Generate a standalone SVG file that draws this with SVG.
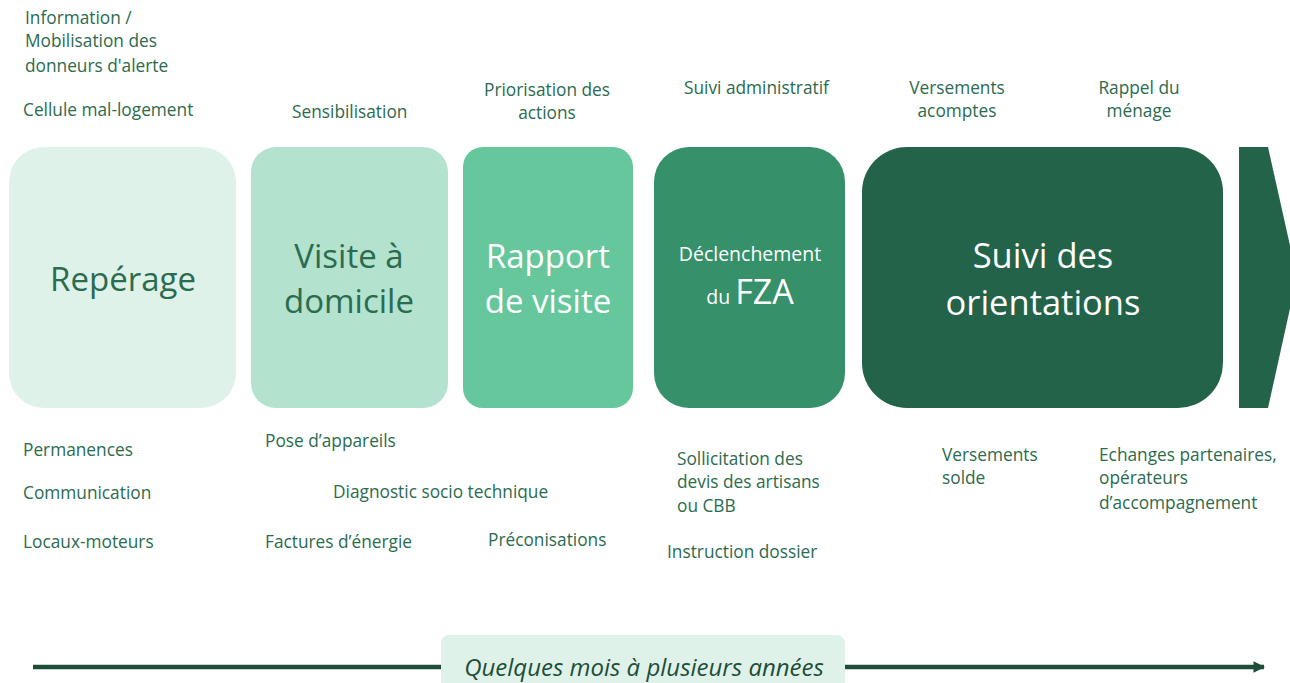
<svg xmlns="http://www.w3.org/2000/svg" width="1290" height="683" viewBox="0 0 1290 683">
<defs>
<style>
.t{font-family:"Open Sans","Noto Sans",sans-serif;font-size:17.3px;fill:#2b6b4e}
.c{text-anchor:middle}
.big{font-family:"Open Sans","Noto Sans",sans-serif;font-size:33px;text-anchor:middle}
.dk{fill:#2b6b4e}
.wh{fill:#ffffff}
</style>
<marker id="ah" viewBox="0 0 10 10" refX="9" refY="5" markerWidth="2.6" markerHeight="2.6" orient="auto"><path d="M0,0 L10,5 L0,10 z" fill="#1e4d38"/></marker>
</defs>
<rect width="1290" height="683" fill="#ffffff"/>

<g id="connectors">
<line x1="33" y1="667" x2="1264" y2="667" stroke="#1e4d38" stroke-width="4.5" marker-end="url(#ah)"/>
</g>

<g id="duree">
<rect x="441" y="635" width="404" height="60" rx="8" fill="#dff2ea"/>
<text x="644" y="676" font-family="Open Sans, Noto Sans, sans-serif" font-size="24" font-style="italic" fill="#1e4d38" text-anchor="middle">Quelques mois à plusieurs années</text>
</g>

<g id="reperage">
<rect x="9" y="147" width="227" height="261" rx="35" fill="#dff2ea"/>
<text class="big dk" x="123" y="291">Repérage</text>
</g>
<g id="visite">
<rect x="251" y="147" width="197" height="261" rx="25" fill="#b3e2cf"/>
<text class="big dk" x="349" y="268">Visite à</text>
<text class="big dk" x="349" y="313">domicile</text>
</g>
<g id="rapport">
<rect x="463" y="147" width="170" height="261" rx="20" fill="#66c79c"/>
<text class="big wh" x="548" y="268">Rapport</text>
<text class="big wh" x="548" y="313">de visite</text>
</g>
<g id="fza">
<rect x="654" y="147" width="191" height="261" rx="35" fill="#36906a"/>
<text class="wh" x="750" y="261" font-family="Open Sans, Noto Sans, sans-serif" font-size="19.5" text-anchor="middle">Déclenchement</text>
<text class="wh" x="750" y="304" font-family="Open Sans, Noto Sans, sans-serif" text-anchor="middle"><tspan font-size="19.5">du </tspan><tspan font-size="34">FZA</tspan></text>
</g>
<g id="suivi">
<rect x="862" y="147" width="361" height="261" rx="45" fill="#236349"/>
<text class="big wh" x="1043" y="268" font-size="34.5" style="font-size:34.5px">Suivi des</text>
<text class="big wh" x="1043" y="315" style="font-size:34.5px">orientations</text>
</g>
<g id="fleche">
<polygon points="1239,147 1268,147 1297,277 1268,408 1239,408" fill="#236349"/>
</g>

<g id="labels-haut">
<text class="t" x="25" y="24">Information /</text>
<text class="t" x="25" y="47">Mobilisation des</text>
<text class="t" x="25" y="72">donneurs d'alerte</text>
<text class="t" x="23" y="116">Cellule mal-logement</text>
<text class="t" x="292" y="118">Sensibilisation</text>
<text class="t c" x="547" y="96">Priorisation des</text>
<text class="t c" x="547" y="119">actions</text>
<text class="t" x="684" y="94">Suivi administratif</text>
<text class="t c" x="957" y="94">Versements</text>
<text class="t c" x="957" y="117">acomptes</text>
<text class="t c" x="1139" y="94">Rappel du</text>
<text class="t c" x="1139" y="117">ménage</text>
</g>

<g id="labels-bas">
<text class="t" x="23" y="456">Permanences</text>
<text class="t" x="23" y="499">Communication</text>
<text class="t" x="23" y="548">Locaux-moteurs</text>
<text class="t" x="265" y="447">Pose d’appareils</text>
<text class="t" x="333" y="498">Diagnostic socio technique</text>
<text class="t" x="265" y="548">Factures d’énergie</text>
<text class="t" x="488" y="546">Préconisations</text>
<text class="t" x="677" y="465">Sollicitation des</text>
<text class="t" x="677" y="488">devis des artisans</text>
<text class="t" x="677" y="512">ou CBB</text>
<text class="t" x="667" y="558">Instruction dossier</text>
<text class="t" x="942" y="461">Versements</text>
<text class="t" x="942" y="484">solde</text>
<text class="t" x="1099" y="461">Echanges partenaires,</text>
<text class="t" x="1099" y="484">opérateurs</text>
<text class="t" x="1099" y="509">d’accompagnement</text>
</g>
</svg>
